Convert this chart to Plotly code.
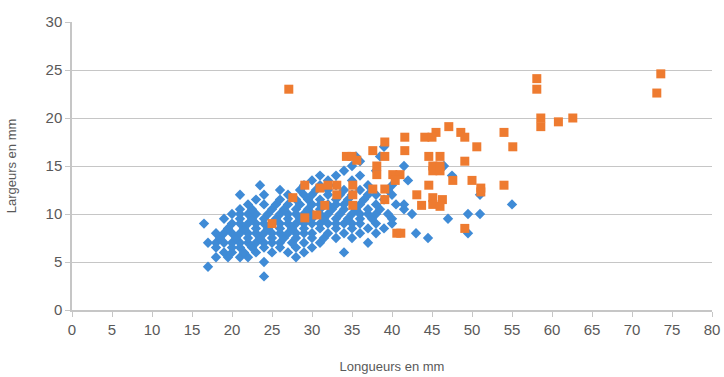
import plotly.graph_objects as go

# Blue series (diamonds): lengths (mm) and widths (mm), listed row by row
blue_rows = {
    3.5: [24],
    4.5: [17],
    5.0: [24],
    5.5: [18, 19.5, 21, 22, 28],
    6.0: [19, 20, 21.5, 23, 25, 27, 29, 34],
    6.5: [18, 20, 21, 22.5, 24, 26, 28, 30],
    7.0: [17, 18, 19, 20, 21, 22, 23, 24, 25, 26, 27.5, 29, 31, 37],
    7.5: [18.5, 20.5, 22, 23.5, 25, 26.5, 28, 30, 31.5, 33, 35, 44.5],
    8.0: [18, 19, 20, 21, 22, 23, 24, 25, 26, 27, 28, 29, 30, 32, 34, 36, 38, 43, 49.5],
    8.5: [19.5, 21.5, 23, 24.5, 26, 27.5, 29, 31, 33, 35, 37, 39],
    9.0: [16.5, 20, 21, 22, 23, 24, 25, 26, 27, 28, 29, 30, 31, 32, 33, 34, 35, 36, 38, 40],
    9.5: [19, 21, 22.5, 24, 25.5, 27, 28.5, 30, 31.5, 33, 34.5, 36, 37.5, 40, 47],
    10.0: [20, 21, 22, 23, 24.5, 26, 27, 28, 29, 30, 31, 32, 33.5, 35, 36, 37, 38, 39.5, 42.5, 49.5, 51],
    10.5: [21, 22.5, 25, 26.5, 28, 29.5, 31, 32.5, 34, 35.5, 37, 38.5, 41.5],
    11.0: [22, 24, 25.5, 27, 28.5, 30, 31, 32, 33, 34, 36, 38, 40.5, 41.5, 55],
    11.5: [23, 26, 28, 29.5, 31, 33, 34.5, 36.5, 39],
    12.0: [21, 24, 27, 29, 30, 32, 33.5, 35, 37, 38, 40, 51],
    12.5: [26, 28.5, 30.5, 32, 34, 36, 39.5],
    13.0: [23.5, 29, 31, 33, 37, 40],
    13.5: [30, 32, 35, 42],
    14.0: [31, 33, 36, 47.5],
    14.5: [34, 38],
    15.0: [35, 41.5, 46.5],
    15.5: [36],
    16.0: [35.5, 38.5],
    17.0: [39],
}
blue_x = [x for y, xs in blue_rows.items() for x in xs]
blue_y = [y for y, xs in blue_rows.items() for x in xs]

# Orange series (squares)
orange_x = [27.1, 58.1, 58.1, 73.6, 73.1, 58.6, 58.6, 60.8, 62.6, 47.1,
            48.6, 49.1, 45.5, 44.1, 45.0, 41.6, 39.1, 54.0, 55.1, 50.6,
            41.6, 39.1, 37.6, 34.3, 35.0, 35.6, 44.6, 46.0, 49.1, 45.1,
            46.0, 45.1, 46.0, 38.1, 38.1, 40.1, 41.0, 40.4, 29.1, 31.0,
            32.0, 33.1, 33.1, 35.1, 35.1, 37.6, 39.1, 44.6, 47.6, 50.0,
            51.1, 51.1, 54.0, 27.6, 43.1, 45.1, 46.3, 25.0, 29.1, 30.6,
            31.6, 35.1, 39.1, 43.7, 45.1, 46.0, 40.6, 41.1, 49.1]
orange_y = [23.0, 24.1, 23.0, 24.6, 22.6, 20.0, 19.1, 19.6, 20.0, 19.1,
            18.5, 18.0, 18.5, 18.0, 18.0, 18.0, 17.5, 18.5, 17.0, 17.0,
            16.6, 16.0, 16.6, 16.0, 16.0, 15.6, 16.0, 16.0, 15.5, 15.0,
            15.0, 14.5, 14.5, 15.0, 14.1, 14.1, 14.1, 13.5, 13.0, 12.7,
            13.0, 13.0, 12.0, 13.0, 12.0, 12.6, 12.6, 13.0, 13.5, 13.5,
            12.7, 12.3, 13.0, 11.7, 12.0, 11.7, 11.5, 9.0, 9.6, 9.9,
            10.9, 10.9, 11.5, 10.9, 11.0, 10.8, 8.0, 8.0, 8.5]

x_ticks = list(range(0, 81, 5))
y_ticks = list(range(0, 31, 5))

BLUE = "#3f8bd6"
ORANGE = "#ee7b30"
TXT = "#595959"
GRID = "#c6c6c6"

fig = go.Figure()
fig.add_trace(go.Scatter(
    x=blue_x, y=blue_y, mode="markers",
    marker=dict(symbol="diamond", size=8, color=BLUE, line=dict(width=0)),
    showlegend=False))
fig.add_trace(go.Scatter(
    x=orange_x, y=orange_y, mode="markers",
    marker=dict(symbol="square", size=9, color=ORANGE, line=dict(width=0)),
    showlegend=False))

fig.update_layout(
    width=724, height=377,
    margin=dict(l=72, r=12, t=22, b=67),
    paper_bgcolor="white", plot_bgcolor="white",
    font=dict(family="Liberation Sans, Arial, sans-serif", color=TXT, size=15),
    xaxis=dict(
        range=[0, 80], tickvals=x_ticks, showgrid=False, zeroline=False,
        showline=True, linecolor=GRID, linewidth=1.5,
        ticks="outside", ticklen=5, tickcolor=GRID,
        tickfont=dict(size=15, color=TXT), automargin=False,
        title=dict(text="Longueurs en mm", font=dict(size=13, color=TXT), standoff=25),
    ),
    yaxis=dict(
        range=[0, 30], tickvals=y_ticks, showgrid=True, gridcolor=GRID, gridwidth=1.2,
        zeroline=False, showline=True, linecolor=GRID, linewidth=1.5,
        ticks="outside", ticklen=5, tickcolor=GRID,
        tickfont=dict(size=15, color=TXT), automargin=False,
        title=dict(text="Largeurs en mm", font=dict(size=13, color=TXT), standoff=26),
    ),
)

fig.write_html("out.html", config={"displayModeBar": False},
               post_script="document.body.style.margin='0px';document.body.style.overflow='hidden';")
